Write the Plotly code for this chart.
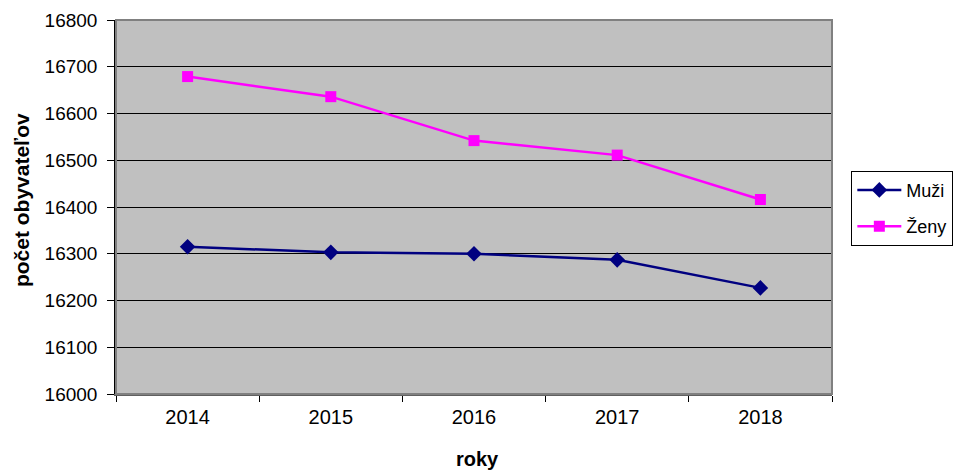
import plotly.graph_objects as go

years = ["2014", "2015", "2016", "2017", "2018"]
muzi = [16315, 16303, 16300, 16287, 16227]
zeny = [16679, 16636, 16542, 16511, 16416]

fig = go.Figure()
fig.add_trace(go.Scatter(
    x=years, y=muzi, name="Muži", mode="lines+markers", legendgroup="m",
    line=dict(color="#000080", width=2.5),
    marker=dict(symbol="diamond", size=12, color="#000080"),
))
fig.add_trace(go.Scatter(
    x=years, y=zeny, name="Ženy", mode="lines+markers", legendgroup="z",
    line=dict(color="#FF00FF", width=2.5),
    marker=dict(symbol="square", size=11, color="#FF00FF"),
))

font = "Liberation Sans, Arial, sans-serif"
fig.update_layout(
    width=963, height=471,
    margin=dict(l=108, r=139, t=12, b=85, autoexpand=False),
    paper_bgcolor="white",
    plot_bgcolor="#C0C0C0",
    font=dict(family=font, size=18, color="black"),
    showlegend=True,
    legend=dict(
        x=1.027, y=0.597, xanchor="left", yanchor="top",
        bordercolor="black", borderwidth=1, bgcolor="white",
        font=dict(size=18), traceorder="grouped", tracegroupgap=10,
        itemwidth=44,
    ),
    xaxis=dict(
        type="category", automargin=False, range=[-0.5, 4.5],
        showgrid=False, zeroline=False,
        tickfont=dict(size=20),
        ticks="outside", tickson="boundaries", ticklen=6, tickcolor="black",
        ticklabelstandoff=4,
        showline=True, linecolor="#606060", linewidth=2,
    ),
    yaxis=dict(
        automargin=False,
        range=[16000, 16800], dtick=100, tickformat="d",
        showgrid=True, gridcolor="black", gridwidth=1,
        zeroline=False,
        tickfont=dict(size=19),
        ticks="outside", ticklen=7, tickcolor="black",
        ticklabelstandoff=6,
        showline=True, linecolor="black", linewidth=1.5,
    ),
    shapes=[dict(
        type="rect", xref="paper", yref="paper", x0=0, x1=1, y0=0, y1=1,
        line=dict(color="#808080", width=2), layer="above",
    )],
    annotations=[
        dict(text="<b>roky</b>", xref="paper", yref="paper", x=0.505, y=-0.174,
             xanchor="center", yanchor="middle", showarrow=False,
             font=dict(size=20)),
        dict(text="<b>počet obyvateľov</b>", xref="paper", yref="paper",
             x=-0.131, y=0.519, xanchor="center", yanchor="middle",
             showarrow=False, textangle=-90, font=dict(size=21)),
    ],
)

fig.write_html("out.html")
